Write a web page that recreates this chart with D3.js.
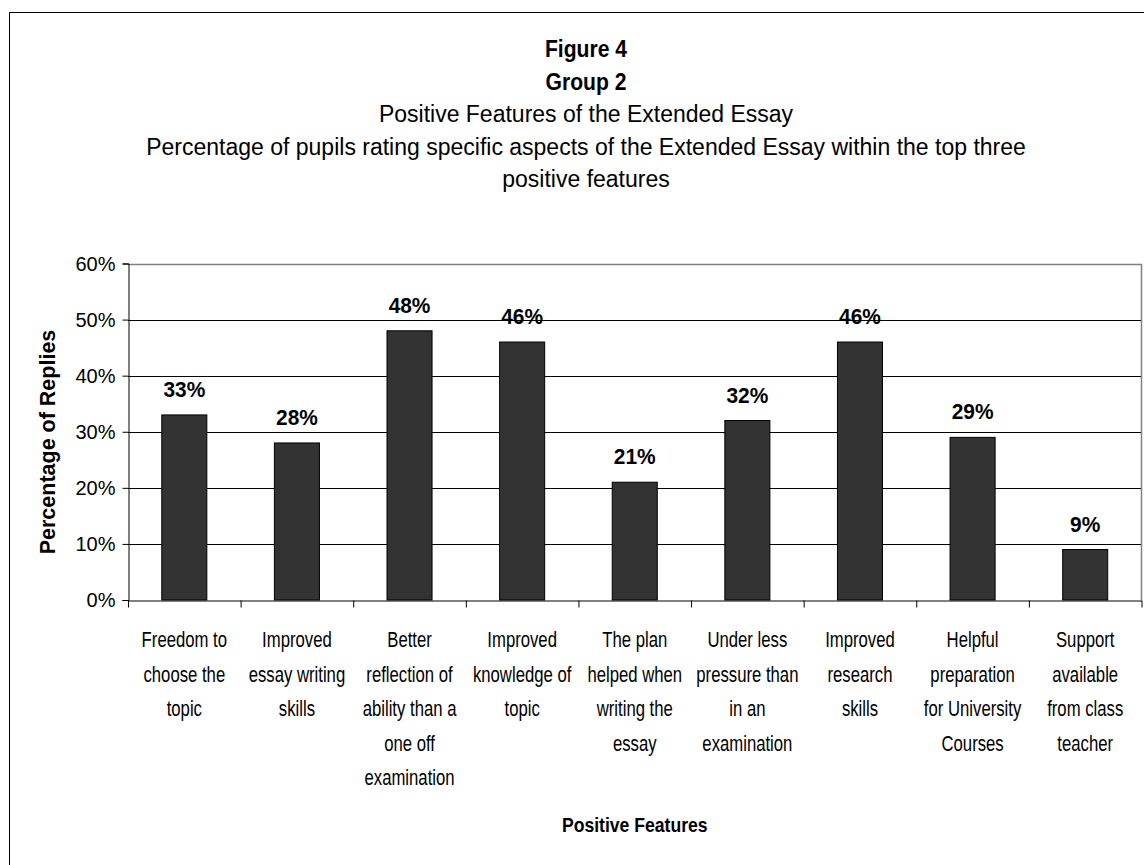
<!DOCTYPE html>
<html><head><meta charset="utf-8">
<script src="https://cdn.jsdelivr.net/npm/d3@7"></script>
<style>
body{margin:0;background:#fff;}
svg{display:block;font-family:"Liberation Sans",Arial,sans-serif;}
</style>
</head><body><svg id="c" width="1144" height="865"></svg>
<script>
const titleLines = [
  "Figure 4",
  "Group 2",
  "Positive Features of the Extended Essay",
  "Percentage of pupils rating specific aspects of the Extended Essay within the top three",
  "positive features"
];
const categories = [
  "Freedom to|choose the|topic",
  "Improved|essay writing|skills",
  "Better|reflection of|ability than a|one off|examination",
  "Improved|knowledge of|topic",
  "The plan|helped when|writing the|essay",
  "Under less|pressure than|in an|examination",
  "Improved|research|skills",
  "Helpful|preparation|for University|Courses",
  "Support|available|from class|teacher"
];
const values = [33, 28, 48, 46, 21, 32, 46, 29, 9];
const yTicks = [0, 10, 20, 30, 40, 50, 60];
const yAxisTitle = "Percentage of Replies";
const xAxisTitle = "Positive Features";

const svg = d3.select("#c");
const L = 128, R = 1141.5, T = 263.5, B = 600;

// outer frame
svg.append("rect").attr("x", 9.5).attr("y", 12.5).attr("width", 1200).attr("height", 1000)
  .attr("fill", "#fff").attr("stroke", "#000").attr("stroke-width", 1);

// titles
const titleX = 586;
svg.selectAll("text.title").data(titleLines).enter().append("text")
  .attr("class", "title")
  .attr("transform", (d, i) => `translate(${titleX},${57 + i * 32.5}) scale(${i < 2 ? 0.92 : 1},1)`)
  .attr("text-anchor", "middle")
  .attr("font-size", 23)
  .attr("font-weight", (d, i) => i < 2 ? "bold" : "normal")
  .text(d => d);

const x = d3.scaleBand().domain(d3.range(categories.length)).range([L, R]).padding(0);
const xb = d3.scaleLinear().domain([0, categories.length]).range([L, R]);
const y = d3.scaleLinear().domain([0, 60]).range([B, T]);

// gridlines
svg.append("g").selectAll("line").data(yTicks.filter(t => t > 0 && t < 60)).enter().append("line")
  .attr("x1", L).attr("x2", R).attr("y1", d => Math.round(y(d)) + 0.5).attr("y2", d => Math.round(y(d)) + 0.5)
  .attr("stroke", "#000").attr("stroke-width", 1);
// plot border top/right
svg.append("path")
  .attr("d", `M${L},${Math.round(T)+0.5}H${R}V${B}`)
  .attr("fill", "none").attr("stroke", "#808080").attr("stroke-width", 1.5);

// bars
const bw = x.bandwidth() * 0.4;
svg.append("g").selectAll("rect").data(values).enter().append("rect")
  .attr("x", (d, i) => x(i) + (x.bandwidth() - bw) / 2)
  .attr("y", d => y(d))
  .attr("width", bw)
  .attr("height", d => B - y(d))
  .attr("fill", "#333333").attr("stroke", "#000").attr("stroke-width", 1);

// data labels
svg.append("g").selectAll("text").data(values).enter().append("text")
  .attr("transform", (d, i) => `translate(${x(i) + x.bandwidth() / 2},${y(d) - 18}) scale(0.95,1)`)
  .attr("text-anchor", "middle").attr("font-size", 22).attr("font-weight", "bold")
  .text(d => d + "%");

// y axis
const yAxis = svg.append("g").attr("transform", `translate(${L + 0.5},0)`)
  .call(d3.axisLeft(y).tickValues(yTicks).tickSize(6).tickPadding(7).tickFormat(d => d + "%"));
yAxis.select(".domain").attr("stroke", "#000");
yAxis.selectAll("text").attr("font-size", 20).attr("font-family", "Liberation Sans, Arial, sans-serif")
  .attr("fill", "#000").attr("dy", "0.34em");

// x axis with boundary ticks
const xAxis = svg.append("g").attr("transform", `translate(0,${B + 0.5})`)
  .call(d3.axisBottom(xb).tickValues(d3.range(categories.length + 1)).tickSize(7).tickSizeOuter(0).tickFormat(""));
xAxis.select(".domain").attr("stroke", "#000");

// category labels
const lab = svg.append("g");
categories.forEach((c, i) => {
  const cx = x(i) + x.bandwidth() / 2;
  c.split("|").forEach((ln, j) => {
    lab.append("text").attr("text-anchor", "middle").attr("font-size", 22)
      .attr("transform", `translate(${cx},${647 + j * 34.5}) scale(0.76,1)`)
      .text(ln);
  });
});

// axis titles
svg.append("text").attr("transform", `translate(${(L + R) / 2},832) scale(0.88,1)`).attr("text-anchor", "middle")
  .attr("font-size", 20).attr("font-weight", "bold").text(xAxisTitle);
svg.append("text").attr("transform", `translate(55,442) rotate(-90)`)
  .attr("text-anchor", "middle").attr("font-size", 21.5).attr("font-weight", "bold").text(yAxisTitle);
</script>
</body></html>
